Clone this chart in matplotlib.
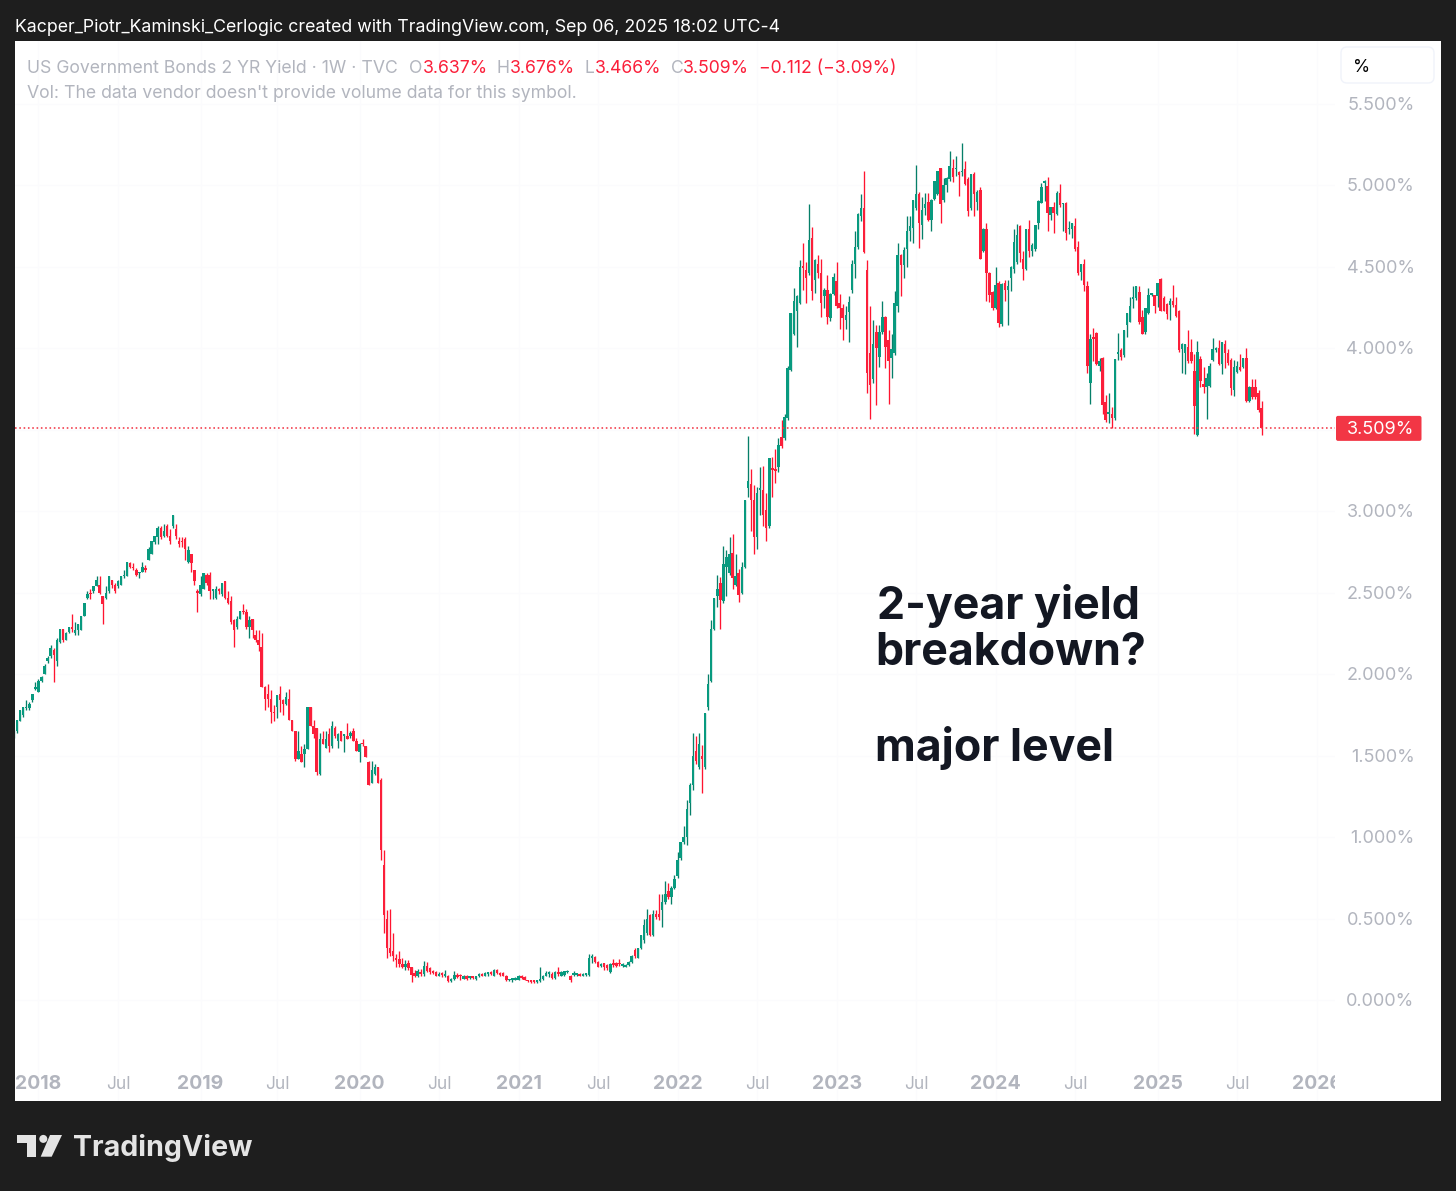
import matplotlib
matplotlib.use("Agg")
import matplotlib.pyplot as plt
from matplotlib.patches import Circle, FancyBboxPatch, Polygon
import numpy as np
import pandas as pd

# weekly candles, first one is the week of 2017-11-06
start_week = pd.Timestamp("2017-11-06")

opens = [
    1.62, 1.65, 1.71, 1.75, 1.79, 1.79, 1.84, 1.91, 1.89, 1.96,
    2.00, 2.08, 2.11, 2.15, 2.08, 2.20, 2.28, 2.21, 2.26, 2.29,
    2.25, 2.27, 2.27, 2.36, 2.47, 2.50, 2.51, 2.54, 2.55, 2.48,
    2.47, 2.51, 2.58, 2.55, 2.54, 2.55, 2.60, 2.60, 2.68, 2.66,
    2.64, 2.62, 2.63, 2.65, 2.70, 2.74, 2.81, 2.84, 2.90, 2.85,
    2.91, 2.85, 2.91, 2.89, 2.82, 2.82, 2.83, 2.69, 2.74, 2.64,
    2.51, 2.49, 2.52, 2.61, 2.61, 2.51, 2.47, 2.52, 2.49, 2.57,
    2.47, 2.45, 2.33, 2.29, 2.34, 2.39, 2.38, 2.29, 2.34, 2.24,
    2.21, 2.17, 1.92, 1.88, 1.85, 1.77, 1.80, 1.88, 1.84, 1.82,
    1.85, 1.72, 1.65, 1.48, 1.51, 1.51, 1.54, 1.80, 1.68, 1.67,
    1.39, 1.60, 1.55, 1.63, 1.56, 1.67, 1.59, 1.65, 1.62, 1.62,
    1.62, 1.65, 1.59, 1.52, 1.58, 1.56, 1.46, 1.33, 1.39, 1.43,
    1.35, .83, .50, .32, .30, .25, .25, .22, .20, .225,
    .20, .165, .145, .17, .16, .21, .195, .18, .17, .15,
    .16, .15, .15, .115, .13, .155, .15, .13, .15, .135,
    .145, .13, .145, .16, .15, .16, .165, .15, .185, .165,
    .165, .15, .12, .125, .125, .125, .147, .14, .12, .115,
    .115, .11, .115, .13, .15, .16, .16, .135, .165, .15,
    .155, .17, .15, .155, .155, .155, .15, .155, .155, .26,
    .265, .235, .21, .225, .215, .17, .225, .225, .225, .21,
    .205, .215, .235, .31, .26, .32, .37, .41, .52, .40,
    .53, .53, .55, .60, .67, .63, .69, .76, .87, .97,
    1.00, 1.21, 1.32, 1.53, 1.43, 1.50, 1.43, 1.80, 1.96, 2.275,
    2.48, 2.56, 2.45, 2.66, 2.62, 2.745, 2.55, 2.62, 2.50, 2.66,
    3.14, 3.17, 3.07, 2.84, 3.13, 3.13, 3.01, 2.91, 3.265, 3.255,
    3.27, 3.455, 3.45, 3.57, 3.87, 4.09, 4.23, 4.28, 4.50, 4.48,
    4.46, 4.68, 4.42, 4.52, 4.46, 4.32, 4.36, 4.185, 4.335, 4.415,
    4.28, 4.245, 4.175, 4.225, 4.36, 4.52, 4.62, 4.81, 4.86, 4.48,
    3.97, 3.81, 4.10, 3.95, 4.10, 4.19, 4.05, 3.94, 3.97, 4.26,
    4.575, 4.51, 4.61, 4.72, 4.74, 4.86, 4.95, 4.76, 4.86, 4.90,
    4.79, 4.92, 4.95, 5.105, 4.91, 5.00, 5.04, 5.11, 5.10, 5.085,
    5.08, 5.10, 5.04, 4.86, 5.07, 4.90, 4.97, 4.595, 4.73, 4.46,
    4.345, 4.25, 4.40, 4.15, 4.40, 4.36, 4.43, 4.49, 4.53, 4.75,
    4.55, 4.485, 4.73, 4.595, 4.61, 4.77, 4.895, 5.015, 4.998, 4.82,
    4.866, 4.825, 4.956, 4.885, 4.89, 4.73, 4.73, 4.75, 4.625, 4.47,
    4.52, 4.38, 3.79, 4.065, 4.093, 3.89, 3.94, 3.67, 3.60, 3.60,
    3.57, 3.965, 3.99, 3.96, 4.145, 4.165, 4.305, 4.31, 4.345, 4.195,
    4.10, 4.22, 4.33, 4.33, 4.32, 4.427, 4.31, 4.27, 4.267, 4.293,
    4.267, 4.23, 3.995, 3.97, 4.01, 3.98, 3.86, 3.47, 3.935, 3.78,
    3.765, 3.77, 3.93, 3.99, 4.00, 3.905, 4.03, 3.97, 3.93, 3.745,
    3.855, 3.888, 3.884, 3.94, 3.675, 3.765, 3.76, 3.725, 3.637,
]
highs = [
    1.66, 1.72, 1.78, 1.80, 1.84, 1.83, 1.88, 1.95, 1.97, 1.99,
    2.06, 2.11, 2.18, 2.16, 2.22, 2.28, 2.28, 2.26, 2.29, 2.37,
    2.32, 2.31, 2.36, 2.44, 2.51, 2.52, 2.54, 2.60, 2.60, 2.48,
    2.54, 2.60, 2.58, 2.56, 2.58, 2.60, 2.64, 2.69, 2.69, 2.68,
    2.65, 2.63, 2.69, 2.67, 2.78, 2.82, 2.85, 2.91, 2.91, 2.92,
    2.92, 2.89, 2.98, 2.92, 2.84, 2.84, 2.84, 2.79, 2.74, 2.64,
    2.52, 2.60, 2.62, 2.62, 2.63, 2.52, 2.54, 2.53, 2.56, 2.57,
    2.51, 2.48, 2.34, 2.36, 2.39, 2.43, 2.40, 2.36, 2.34, 2.27,
    2.27, 2.25, 1.93, 1.94, 1.90, 1.81, 1.87, 1.93, 1.85, 1.89,
    1.91, 1.72, 1.65, 1.65, 1.56, 1.57, 1.80, 1.80, 1.72, 1.67,
    1.64, 1.65, 1.65, 1.67, 1.71, 1.68, 1.64, 1.65, 1.63, 1.70,
    1.65, 1.67, 1.61, 1.58, 1.60, 1.56, 1.47, 1.47, 1.45, 1.43,
    1.36, .92, .55, .56, .41, .28, .30, .255, .245, .245,
    .205, .185, .19, .19, .24, .235, .20, .185, .175, .17,
    .17, .185, .155, .135, .175, .165, .16, .155, .155, .15,
    .15, .15, .165, .165, .17, .17, .18, .19, .19, .17,
    .17, .155, .13, .135, .14, .155, .155, .145, .125, .12,
    .12, .125, .20, .155, .175, .175, .17, .175, .20, .175,
    .18, .185, .155, .175, .165, .165, .165, .165, .285, .285,
    .27, .24, .225, .23, .22, .225, .25, .235, .25, .225,
    .22, .24, .275, .32, .32, .40, .495, .56, .53, .55,
    .55, .65, .65, .73, .72, .70, .77, .91, .97, 1.07,
    1.23, 1.33, 1.64, 1.62, 1.64, 1.565, 1.76, 2.00, 2.33, 2.47,
    2.61, 2.595, 2.79, 2.76, 2.84, 2.86, 2.735, 2.645, 2.69, 3.07,
    3.46, 3.26, 3.16, 3.15, 3.27, 3.28, 3.11, 3.33, 3.335, 3.38,
    3.45, 3.56, 3.60, 3.89, 4.22, 4.37, 4.33, 4.54, 4.645, 4.53,
    4.885, 4.745, 4.55, 4.575, 4.55, 4.37, 4.45, 4.34, 4.46, 4.53,
    4.335, 4.27, 4.26, 4.32, 4.54, 4.72, 4.83, 4.95, 5.09, 4.54,
    4.26, 4.175, 4.145, 4.145, 4.29, 4.20, 4.11, 4.09, 4.35, 4.645,
    4.58, 4.62, 4.81, 4.81, 4.91, 5.126, 4.96, 4.93, 4.955, 4.955,
    4.915, 5.03, 5.09, 5.11, 5.045, 5.05, 5.21, 5.165, 5.18, 5.09,
    5.263, 5.15, 5.05, 5.07, 5.085, 4.97, 4.99, 4.74, 4.77, 4.47,
    4.35, 4.50, 4.416, 4.40, 4.42, 4.42, 4.505, 4.73, 4.765, 4.755,
    4.60, 4.735, 4.79, 4.65, 4.76, 4.91, 5.018, 5.034, 5.055, 4.87,
    4.90, 4.965, 5.01, 4.89, 4.90, 4.785, 4.772, 4.80, 4.66, 4.52,
    4.547, 4.416, 4.09, 4.123, 4.10, 3.94, 3.95, 3.715, 3.725, 3.64,
    3.935, 4.093, 4.00, 4.115, 4.215, 4.318, 4.383, 4.383, 4.38, 4.236,
    4.25, 4.37, 4.34, 4.33, 4.40, 4.43, 4.32, 4.28, 4.307, 4.39,
    4.318, 4.235, 4.035, 4.03, 4.113, 4.06, 3.966, 4.046, 3.954, 3.884,
    3.847, 3.913, 4.066, 4.01, 4.05, 4.04, 4.05, 3.997, 3.94, 3.93,
    3.925, 3.966, 3.94, 4.00, 3.77, 3.81, 3.81, 3.745, 3.676,
]
lows = [
    1.61, 1.64, 1.71, 1.74, 1.78, 1.78, 1.83, 1.90, 1.89, 1.95,
    2.00, 2.07, 2.10, 1.95, 2.05, 2.19, 2.20, 2.21, 2.25, 2.26,
    2.24, 2.24, 2.27, 2.36, 2.46, 2.46, 2.50, 2.54, 2.49, 2.31,
    2.46, 2.50, 2.53, 2.50, 2.53, 2.55, 2.59, 2.60, 2.65, 2.64,
    2.60, 2.59, 2.63, 2.63, 2.70, 2.74, 2.80, 2.80, 2.83, 2.84,
    2.84, 2.80, 2.90, 2.83, 2.78, 2.78, 2.70, 2.68, 2.63, 2.55,
    2.38, 2.48, 2.52, 2.55, 2.46, 2.46, 2.46, 2.49, 2.48, 2.46,
    2.43, 2.31, 2.17, 2.28, 2.34, 2.37, 2.28, 2.22, 2.22, 2.20,
    2.14, 1.92, 1.78, 1.80, 1.70, 1.71, 1.73, 1.77, 1.75, 1.81,
    1.72, 1.65, 1.47, 1.48, 1.46, 1.43, 1.54, 1.68, 1.61, 1.38,
    1.38, 1.57, 1.55, 1.52, 1.55, 1.61, 1.55, 1.59, 1.52, 1.60,
    1.61, 1.59, 1.53, 1.46, 1.56, 1.49, 1.32, 1.33, 1.38, 1.33,
    .86, .41, .26, .27, .24, .20, .20, .195, .185, .185,
    .11, .14, .14, .15, .15, .17, .16, .16, .145, .145,
    .14, .14, .11, .11, .125, .135, .125, .13, .125, .13,
    .13, .125, .14, .145, .145, .145, .155, .145, .16, .15,
    .145, .115, .115, .11, .12, .12, .13, .12, .11, .105,
    .105, .105, .11, .125, .145, .14, .13, .13, .145, .145,
    .15, .165, .11, .145, .145, .145, .145, .15, .15, .23,
    .225, .20, .20, .185, .185, .165, .205, .205, .21, .205,
    .20, .21, .23, .26, .255, .315, .35, .40, .39, .395,
    .50, .49, .45, .59, .62, .59, .68, .75, .86, .96,
    .95, 1.135, 1.29, 1.45, 1.42, 1.27, 1.42, 1.78, 1.95, 2.27,
    2.41, 2.28, 2.44, 2.48, 2.61, 2.52, 2.54, 2.445, 2.49, 2.65,
    3.09, 2.88, 2.735, 2.77, 2.98, 2.91, 2.82, 2.90, 3.085, 3.175,
    3.24, 3.39, 3.44, 3.56, 3.86, 4.08, 4.01, 4.27, 4.36, 4.28,
    4.45, 4.30, 4.34, 4.43, 4.19, 4.25, 4.15, 4.17, 4.33, 4.25,
    4.12, 4.05, 4.12, 4.04, 4.34, 4.43, 4.61, 4.78, 4.585, 3.725,
    3.565, 3.785, 3.65, 3.885, 4.09, 3.88, 3.66, 3.82, 3.96, 4.225,
    4.32, 4.43, 4.50, 4.66, 4.65, 4.85, 4.615, 4.67, 4.82, 4.78,
    4.72, 4.91, 4.94, 4.77, 4.90, 4.96, 5.03, 5.024, 5.06, 4.935,
    5.06, 5.00, 4.81, 4.85, 4.81, 4.85, 4.55, 4.59, 4.29, 4.285,
    4.235, 4.24, 4.13, 4.14, 4.29, 4.145, 4.355, 4.46, 4.52, 4.53,
    4.42, 4.48, 4.56, 4.565, 4.60, 4.73, 4.89, 4.907, 4.72, 4.79,
    4.71, 4.82, 4.87, 4.72, 4.666, 4.70, 4.675, 4.60, 4.45, 4.42,
    4.35, 3.85, 3.66, 3.925, 3.90, 3.86, 3.60, 3.55, 3.54, 3.51,
    3.56, 3.93, 3.93, 3.95, 4.07, 4.16, 4.246, 4.30, 4.15, 4.087,
    4.09, 4.21, 4.32, 4.215, 4.256, 4.23, 4.23, 4.18, 4.175, 4.257,
    4.19, 3.98, 3.85, 3.84, 3.91, 3.91, 3.475, 3.46, 3.765, 3.725,
    3.565, 3.76, 3.92, 3.98, 3.90, 3.84, 3.88, 3.90, 3.715, 3.705,
    3.85, 3.86, 3.88, 3.67, 3.67, 3.69, 3.69, 3.61, 3.466,
]
closes = [
    1.65, 1.72, 1.78, 1.80, 1.80, 1.82, 1.88, 1.92, 1.96, 1.98,
    2.05, 2.10, 2.16, 2.12, 2.21, 2.28, 2.21, 2.25, 2.29, 2.28,
    2.27, 2.31, 2.36, 2.44, 2.49, 2.49, 2.54, 2.58, 2.50, 2.43,
    2.50, 2.60, 2.55, 2.51, 2.57, 2.60, 2.60, 2.69, 2.66, 2.65,
    2.61, 2.63, 2.66, 2.64, 2.77, 2.82, 2.85, 2.90, 2.84, 2.88,
    2.85, 2.82, 2.977, 2.85, 2.80, 2.81, 2.77, 2.76, 2.68, 2.57,
    2.50, 2.55, 2.62, 2.56, 2.51, 2.52, 2.52, 2.51, 2.56, 2.47,
    2.44, 2.32, 2.27, 2.34, 2.39, 2.38, 2.29, 2.33, 2.27, 2.21,
    2.18, 1.92, 1.85, 1.85, 1.77, 1.76, 1.87, 1.84, 1.82, 1.86,
    1.72, 1.65, 1.48, 1.53, 1.46, 1.54, 1.80, 1.68, 1.63, 1.40,
    1.60, 1.57, 1.60, 1.56, 1.68, 1.62, 1.63, 1.59, 1.62, 1.60,
    1.64, 1.59, 1.53, 1.57, 1.57, 1.49, 1.32, 1.41, 1.43, 1.33,
    .92, .52, .32, .29, .27, .245, .22, .205, .22, .195,
    .155, .145, .175, .16, .21, .18, .17, .165, .15, .16,
    .155, .155, .115, .13, .155, .14, .145, .15, .13, .14,
    .135, .145, .16, .15, .165, .165, .16, .185, .165, .155,
    .15, .12, .125, .13, .13, .15, .135, .125, .115, .11,
    .112, .117, .13, .15, .165, .165, .135, .17, .16, .17,
    .175, .175, .12, .16, .16, .15, .16, .16, .26, .265,
    .235, .205, .22, .205, .195, .22, .215, .21, .22, .22,
    .215, .235, .27, .27, .32, .40, .46, .50, .40, .53,
    .51, .51, .60, .65, .63, .69, .74, .86, .97, 1.00,
    1.17, 1.32, 1.50, 1.47, 1.57, 1.48, 1.76, 1.94, 2.275, 2.465,
    2.52, 2.455, 2.675, 2.72, 2.74, 2.59, 2.60, 2.485, 2.66, 3.07,
    3.185, 3.07, 2.84, 3.11, 3.135, 2.975, 2.895, 3.33, 3.255, 3.25,
    3.405, 3.40, 3.58, 3.88, 4.22, 4.29, 4.32, 4.50, 4.495, 4.43,
    4.665, 4.355, 4.54, 4.465, 4.28, 4.36, 4.19, 4.335, 4.44, 4.26,
    4.245, 4.185, 4.205, 4.285, 4.52, 4.625, 4.825, 4.86, 4.594, 3.85,
    3.775, 4.03, 4.00, 4.10, 4.19, 4.01, 3.925, 3.995, 4.28, 4.575,
    4.51, 4.605, 4.72, 4.75, 4.91, 4.95, 4.77, 4.85, 4.885, 4.79,
    4.91, 5.03, 5.09, 4.885, 5.00, 5.045, 5.12, 5.055, 5.105, 5.065,
    5.085, 5.01, 4.845, 5.07, 4.95, 4.96, 4.55, 4.73, 4.46, 4.33,
    4.25, 4.39, 4.155, 4.395, 4.36, 4.38, 4.50, 4.655, 4.696, 4.585,
    4.485, 4.73, 4.595, 4.635, 4.76, 4.907, 4.99, 5.02, 4.83, 4.87,
    4.83, 4.956, 4.88, 4.89, 4.71, 4.74, 4.77, 4.61, 4.46, 4.52,
    4.39, 3.89, 4.06, 4.06, 3.905, 3.92, 3.653, 3.56, 3.605, 3.57,
    3.935, 3.97, 3.95, 4.115, 4.215, 4.26, 4.31, 4.383, 4.16, 4.09,
    4.25, 4.33, 4.335, 4.26, 4.40, 4.232, 4.232, 4.21, 4.293, 4.267,
    4.20, 3.99, 4.027, 4.027, 3.92, 3.92, 3.647, 3.98, 3.80, 3.76,
    3.82, 3.89, 3.995, 4.00, 3.905, 4.04, 3.97, 3.91, 3.755, 3.888,
    3.89, 3.868, 3.94, 3.68, 3.765, 3.70, 3.70, 3.62, 3.509,
]

price_ticks = [0.0, 0.5, 1.0, 1.5, 2.0, 2.5, 3.0, 3.5, 4.0, 4.5, 5.0, 5.5]
time_ticks = [
    "2018-01-01", "2018-07-02", "2019-01-07", "2019-07-01", "2020-01-06", "2020-07-06",
    "2021-01-04", "2021-07-05", "2022-01-03", "2022-07-04", "2023-01-02", "2023-07-03",
    "2024-01-01", "2024-07-01", "2025-01-06", "2025-07-07", "2026-01-05",
]
time_labels = [
    "2018", "Jul", "2019", "Jul", "2020", "Jul", "2021", "Jul", "2022", "Jul",
    "2023", "Jul", "2024", "Jul", "2025", "Jul", "2026",
]

BG = "#1e1e1e"
GREY = "#b2b5be"
RED = "#f23645"
VIVID = "#fb1f3a"
GREEN = "#089a7f"
DARK = "#131722"
W, H = 1456, 1191

plt.rcParams["font.family"] = ["Inter", "DejaVu Sans"]

fig = plt.figure(figsize=(W / 100, H / 100), dpi=100, facecolor=BG)

ylim = (-0.62, 5.887)
ax = fig.add_axes([15 / W, (H - 1101) / H, 1320 / W, 1060 / H], facecolor="white")
ax_price = fig.add_axes([1335 / W, (H - 1101) / H, 106 / W, 1060 / H], facecolor="white")
for a in (ax, ax_price):
    a.set_ylim(*ylim)
    a.set_xticks([])
    a.set_yticks([])
    for s in a.spines.values():
        s.set_visible(False)
ax.set_xlim(0.33, 432)
ax_price.set_xlim(0, 106)

o = np.array(opens)
h = np.array(highs)
l = np.array(lows)
c = np.array(closes)
x = np.arange(len(c))
up = c >= o

tick_x = [(pd.Timestamp(d) - start_week).days / 7 for d in time_ticks]

# very faint grid
for p in price_ticks:
    ax.axhline(p, color="#fbfbfd", lw=0.8, zorder=0)
for t in tick_x:
    ax.axvline(t, color="#fbfbfd", lw=0.8, zorder=0)

# candles
ax.vlines(x, l, h, colors=np.where(up, "#067f69", "#ff1430"), lw=0.95, zorder=2)
body = np.maximum(np.abs(c - o), 0.01)
ax.bar(x, body, bottom=np.minimum(o, c), width=0.8,
       color=np.where(up, GREEN, VIVID), linewidth=0, zorder=3)

# last price line
ax.axhline(closes[-1], color=RED, lw=1.15, dashes=(1, 1.7), zorder=4)

for t, lab in zip(tick_x, time_labels):
    is_year = lab != "Jul"
    ax.text(t, 0.0158, lab, transform=ax.get_xaxis_transform(), ha="center", va="center",
            color=GREY, fontsize=14 if is_year else 12.5,
            fontweight="bold" if is_year else "normal", clip_on=True)

for p in price_ticks:
    ax_price.text(79.5, p - 0.009, f"{p:.3f}%", ha="right", va="center", color=GREY, fontsize=13)

# chrome and annotations in pixel coordinates
top = fig.add_axes([0, 0, 1, 1], facecolor="none", zorder=10)
top.set_xlim(0, W)
top.set_ylim(H, 0)
top.axis("off")

top.text(15, 28, "Kacper_Piotr_Kaminski_Cerlogic created with TradingView.com, Sep 06, 2025 18:02 UTC-4",
         color="white", fontsize=12.75, va="center")

top.text(27, 68.5, "US Government Bonds 2 YR Yield · 1W · TVC", color=GREY, fontsize=12.7, va="center")
for xp, s, col in [
    (409, "O", GREY), (423, "3.637%", VIVID), (497, "H", GREY), (510, "3.676%", VIVID),
    (584, "L", GREY), (595, "3.466%", VIVID), (671, "C", GREY), (683, "3.509%", VIVID),
    (759, "−0.112 (−3.09%)", VIVID),
]:
    top.text(xp, 68.5, s, color=col, fontsize=12.7, va="center")
top.text(27, 94, "Vol: The data vendor doesn't provide volume data for this symbol.",
         color=GREY, fontsize=12.7, va="center")

top.add_patch(FancyBboxPatch((1341, 47), 93, 36, boxstyle="round,pad=0,rounding_size=6",
                             fc="white", ec="#f0f3fa", lw=1))
top.text(1362, 67, "%", color="black", fontsize=12.5, ha="center", va="center")

# price tag follows the last close
y_last = H - ax.transData.transform((0, closes[-1]))[1]
top.add_patch(FancyBboxPatch((1336, y_last - 12.5), 85.5, 25, boxstyle="round,pad=0,rounding_size=2",
                             fc=RED, ec="none"))
top.text(1381, y_last + 1.5, f"{closes[-1]:.3f}%", color="white", fontsize=13, ha="center", va="center")

top.text(877, 606, "2-year yield", color=DARK, fontsize=32.2, fontweight="bold", va="center")
top.text(875, 653, "breakdown?", color=DARK, fontsize=32.2, fontweight="bold", va="center")
top.text(875, 748, "major level", color=DARK, fontsize=32.2, fontweight="bold", va="center")

# TradingView logo
logo = "#e4e4e4"
top.add_patch(Polygon([(17.3, 1135), (36, 1135), (36, 1156.7), (27.3, 1156.7), (27.3, 1143.3), (17.3, 1143.3)],
                      fc=logo, ec="none"))
top.add_patch(Circle((43.3, 1138.9), 4, fc=logo, ec="none"))
top.add_patch(Polygon([(50, 1135), (62, 1135), (51.7, 1156.7), (40.7, 1156.7)], fc=logo, ec="none"))
top.text(72.5, 1147.5, "TradingView", color=logo, fontsize=20.6, fontweight="bold", va="center")

fig.savefig("out.png", dpi=100, facecolor=BG)
